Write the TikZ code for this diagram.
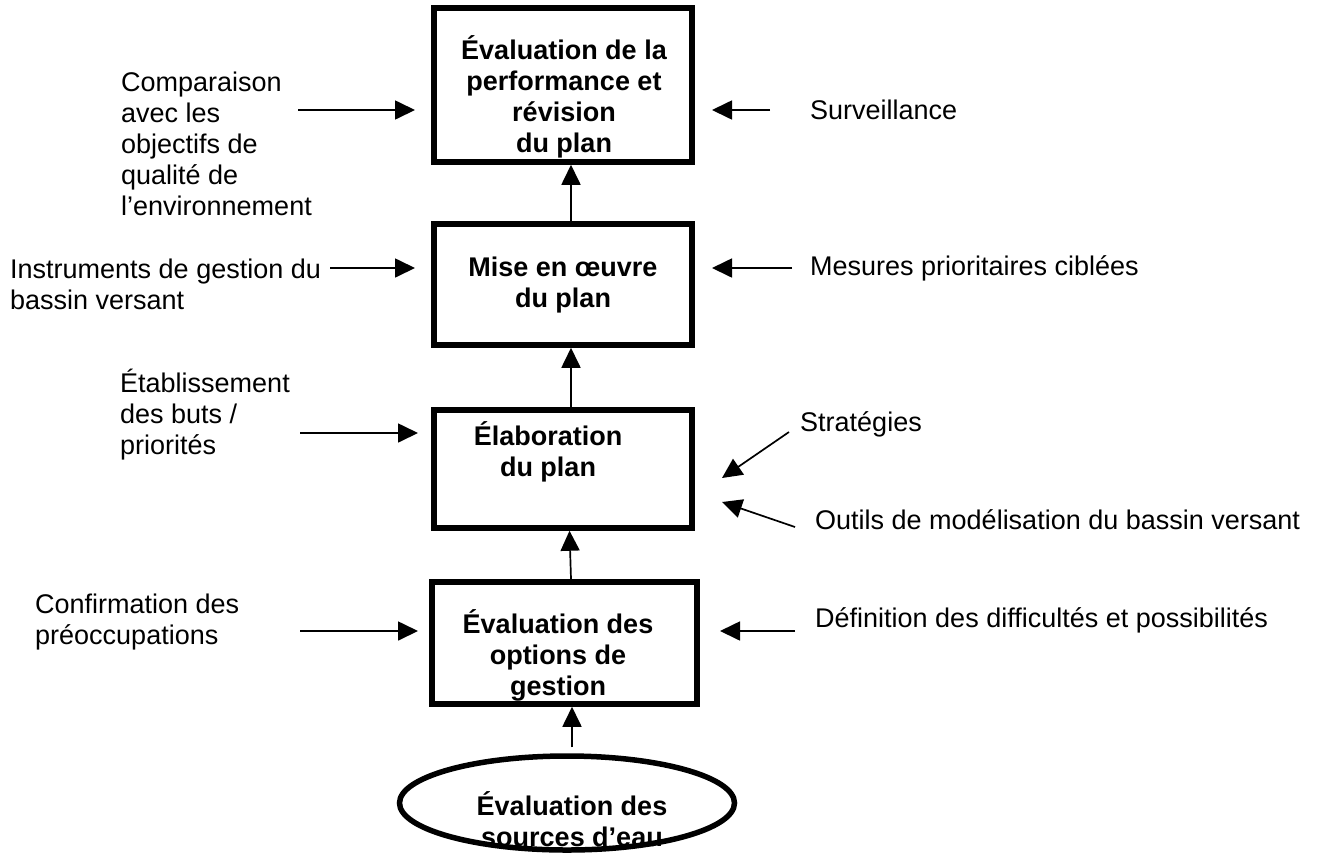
\documentclass[tikz,border=0pt]{standalone}
\usepackage{fontspec}
\setmainfont{Liberation Sans}
\usetikzlibrary{arrows.meta,shapes.geometric}
\begin{document}
\begin{tikzpicture}[x=1pt,y=-1pt,
  box/.style={draw, line width=5.5pt, minimum width=258pt, inner sep=0pt},
  btxt/.style={align=center, inner sep=0pt, font=\fontsize{27}{31}\selectfont\bfseries},
  lbl/.style={align=left, anchor=west, inner sep=0pt, font=\fontsize{27}{31}\selectfont},
  arr/.style={-{Triangle[length=20pt,width=19pt]}, line width=1.7pt}]
\useasboundingbox (0,0) rectangle (1335,852);
% boxes
\node[box, minimum height=154pt] (b1) at (563,85) {};
\node[btxt] (t1) at (564,97) {Évaluation de la\\performance et\\révision\\du plan};
\node[box, minimum height=121pt] (b2) at (563,284.5) {};
\node[btxt] (t2) at (563,285) {Mise en œuvre\\du plan};
\node[box, minimum height=118pt] (b3) at (563,469) {};
\node[btxt] (t3) at (548,452) {Élaboration\\du plan};
\node[box, minimum width=265pt, minimum height=122pt] (b4) at (564.5,643) {};
\node[btxt] (t4) at (558,655) {Évaluation des\\options de\\gestion};
\node[draw, ellipse, line width=5.5pt, minimum width=335pt, minimum height=94pt, inner sep=0pt] (e) at (567,803) {};
\node[btxt] (t5) at (572,819) {Évaluation des\\sources d’eau};
% vertical arrows
\draw[arr] ([xshift=8pt]b2.north) -- ([xshift=8pt]b1.south);
\draw[arr] ([xshift=8pt]b3.north) -- ([xshift=8pt]b2.south);
\draw[arr] ([xshift=6.5pt]b4.north) -- ([xshift=6.5pt]b3.south);
\draw[arr] ([xshift=5pt,yshift=6pt]e.north) -- ([xshift=7.5pt]b4.south);
% left labels
\node[lbl] (l1) at (121,144) {Comparaison\\avec les\\objectifs de\\qualité de\\l’environnement};
\node[lbl] (l2) at (10,284) {Instruments de gestion du\\bassin versant};
\node[lbl] (l3) at (120,415) {Établissement\\des buts /\\priorités};
\node[lbl] (l4) at (35,622) {Confirmation des\\préoccupations};
% right labels
\node[lbl] (r1) at (810,110) {Surveillance};
\node[lbl] (r2) at (810,268) {Mesures prioritaires ciblées};
\node[lbl] (r3) at (800,424) {Stratégies};
\node[lbl] (r4) at (815,520) {Outils de modélisation du bassin versant};
\node[lbl] (r5) at (815,620) {Définition des difficultés et possibilités};
% arrow end points
\coordinate (a1s) at (298,110); \coordinate (a1e) at (415,110);
\coordinate (a2s) at (330,268); \coordinate (a2e) at (415,268);
\coordinate (a3s) at (300,433); \coordinate (a3e) at (418,433);
\coordinate (a4s) at (300,631); \coordinate (a4e) at (418,631);
\coordinate (c1s) at (770,110); \coordinate (c1e) at (712,110);
\coordinate (c2s) at (792,268); \coordinate (c2e) at (712,268);
\coordinate (c3s) at (789,432); \coordinate (c3e) at (722,478);
\coordinate (c4s) at (795,527); \coordinate (c4e) at (722,502);
\coordinate (c5s) at (795,631); \coordinate (c5e) at (720,631);
\draw[arr] (a1s) -- (a1e);
\draw[arr] (a2s) -- (a2e);
\draw[arr] (a3s) -- (a3e);
\draw[arr] (a4s) -- (a4e);
\draw[arr] (c1s) -- (c1e);
\draw[arr] (c2s) -- (c2e);
\draw[arr] (c3s) -- (c3e);
\draw[arr] (c4s) -- (c4e);
\draw[arr] (c5s) -- (c5e);
\end{tikzpicture}
\end{document}
